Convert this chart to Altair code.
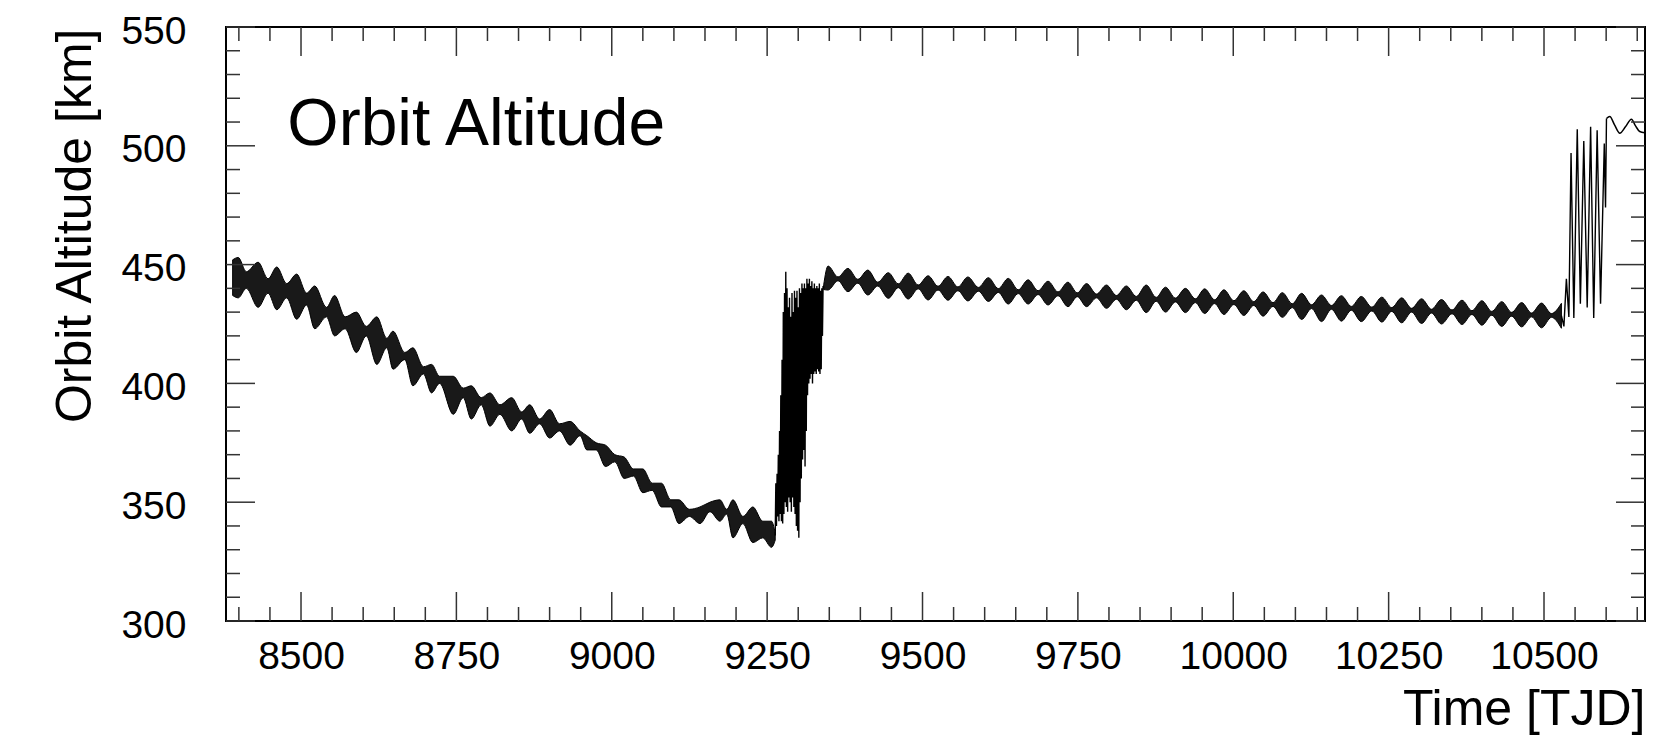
import altair as alt
import pandas as pd

# ---------------- data ----------------
# Segment A: decay phase, envelope of the fast oscillation (time, lower, upper)
tA = [8390, 8399, 8412, 8431, 8447, 8461, 8477, 8493, 8509, 8522, 8541, 8554, 8571, 8589,
      8605, 8622, 8638, 8648, 8667, 8680, 8697, 8710, 8723, 8745, 8761, 8774, 8790, 8804,
      8820, 8839, 8855, 8868, 8884, 8900, 8916, 8933, 8949, 8960, 8975, 8990, 9005, 9020,
      9035, 9050, 9065, 9080, 9095, 9108, 9125, 9142, 9158, 9174, 9185, 9195, 9211, 9227,
      9243, 9257, 9263]
loA = [437, 436, 440, 432, 438, 431, 436, 427, 433, 423, 428, 420, 423, 413,
       420, 408, 415, 406, 410, 399, 404, 396, 400, 387, 394, 385, 391, 382,
       387, 380, 385, 379, 383, 377, 380, 374, 378, 372, 372, 365, 367, 360,
       361, 354, 355, 348, 348, 341, 344, 341, 346, 342, 345, 335, 341, 333,
       335, 331, 334]
hiA = [452, 453, 447, 451, 444, 449, 442, 446, 438, 441, 432, 437, 428, 430,
       424, 428, 419, 422, 413, 415, 407, 408, 403, 403, 398, 399, 394, 396,
       391, 394, 388, 391, 385, 389, 383, 384, 380, 378, 375, 374, 370, 369,
       364, 364, 358, 358, 351, 351, 347, 348, 350, 351, 347, 351, 344, 348,
       342, 342, 337]

# Segment B: flat phase after the re-boost, lobes and nodes of the beat pattern
tB = [9341, 9348, 9364, 9380, 9396, 9412, 9428, 9445, 9461, 9477, 9493, 9509, 9525, 9541,
      9557, 9573, 9590, 9606, 9622, 9638, 9654, 9670, 9686, 9702, 9718, 9734, 9749, 9764,
      9780, 9796, 9812, 9828, 9844, 9860, 9876, 9891, 9907, 9923, 9939, 9954, 9970, 9985,
      10001, 10017, 10033, 10048, 10064, 10079, 10095, 10110, 10126, 10142, 10158, 10174,
      10190, 10206, 10223, 10239, 10255, 10271, 10287, 10303, 10319, 10335, 10352, 10368,
      10384, 10400, 10416, 10432, 10448, 10464, 10480, 10496, 10512, 10528]
loB = [439.5, 439.3, 443.2, 438.6, 442.2, 437.2, 441.0, 435.8, 440.3, 435.5, 439.8, 435.1,
       439.3, 435.0, 439.0, 434.7, 438.8, 434.5, 438.3, 433.4, 437.8, 433.4, 437.4, 433.0,
       436.9, 432.3, 436.5, 432.3, 436.0, 431.6, 435.4, 431.0, 435.0, 429.8, 434.6, 430.0,
       434.3, 429.8, 434.0, 429.4, 433.6, 429.0, 433.2, 428.6, 432.8, 428.3, 432.4, 427.8,
       431.9, 426.9, 431.5, 426.0, 431.2, 426.2, 430.8, 426.0, 430.5, 425.8, 430.3, 425.5,
       430.0, 425.2, 429.6, 425.0, 429.3, 424.8, 429.0, 424.5, 428.7, 424.0, 428.3, 423.8,
       428.0, 423.4, 427.8, 423.2]
hiB = [441.5, 449.4, 444.8, 448.4, 443.8, 447.7, 442.6, 446.6, 441.9, 446.4, 441.4, 445.3,
       440.9, 445.0, 440.6, 444.8, 440.4, 444.5, 439.9, 444.2, 439.4, 443.6, 439.0, 443.0,
       438.5, 442.6, 438.1, 442.0, 437.6, 441.4, 437.0, 441.0, 436.6, 441.4, 436.2, 440.5,
       435.9, 440.0, 435.6, 439.8, 435.2, 439.4, 434.8, 439.0, 434.4, 438.5, 434.0, 438.2,
       433.5, 437.9, 433.1, 437.2, 432.8, 436.9, 432.4, 436.6, 432.1, 436.3, 431.9, 436.0,
       431.6, 435.6, 431.2, 435.3, 430.9, 435.0, 430.6, 434.8, 430.3, 434.4, 429.9, 434.0,
       429.6, 433.8, 429.4, 433.7]

# Segment C: large swings during the first re-boost
tC = [9263, 9264, 9265, 9266, 9267, 9268, 9269, 9270, 9271, 9272, 9273, 9274, 9275, 9276,
      9277, 9278, 9279, 9280, 9281, 9282, 9283, 9284, 9285, 9286, 9287, 9288, 9289, 9290,
      9291, 9292, 9293, 9294, 9295, 9296, 9297, 9298, 9299, 9300, 9301, 9302, 9303, 9304,
      9305, 9306, 9307, 9308, 9309, 9310, 9311, 9312, 9313, 9314, 9315, 9316, 9317, 9318,
      9319, 9320, 9321, 9322, 9323, 9324, 9325, 9326, 9327, 9328, 9329, 9330, 9331, 9332,
      9333, 9334, 9335, 9336, 9337, 9338, 9339, 9340, 9341]
vC = [336, 358, 340, 362, 344, 370, 342, 380, 345, 395, 342, 410, 341, 430,
      345, 438, 350, 447, 348, 440, 346, 432, 352, 436, 350, 428, 346, 438,
      352, 430, 348, 439, 345, 436, 340, 439, 338, 432, 335, 440, 350, 438,
      360, 442, 368, 440, 372, 442, 365, 440, 380, 444, 395, 442, 400, 444,
      402, 441, 404, 443, 400, 440, 404, 442, 405, 440, 404, 441, 406, 440,
      405, 442, 404, 439, 406, 440, 420, 441, 440]

# Segment D: large swings during the second re-boost
tD = [10528, 10532, 10536, 10540, 10543.5, 10548, 10553.5, 10558.5, 10564, 10569.5,
      10575, 10580, 10585.5, 10591, 10597, 10599, 10600.5]
vD = [428.5, 424, 444, 428, 497, 427.5, 507, 433.5, 502, 432,
      508, 427.5, 506.5, 433.5, 501, 474, 511.5]

# Segment E: smooth wave at the end
tE = [10600.5, 10605.8, 10613.5, 10621.9, 10631, 10640.7, 10647, 10654, 10662]
vE = [511.5, 512.3, 508.8, 505.3, 508, 511.2, 508.5, 506, 505.5]

x_major = [8500, 8750, 9000, 9250, 9500, 9750, 10000, 10250, 10500]
x_minor = [v for v in range(8400, 10651, 50) if v % 250]
y_major = [300, 350, 400, 450, 500, 550]
y_minor = [v for v in range(310, 550, 10) if v % 50]

label_text = ["Orbit Altitude"]
label_t = [8478]
label_v = [500.3]

# ---------------- chart ----------------
W, H = 1419, 594
FONT = "Liberation Sans"
TICK = "#333333"
MAJ, MIN = 29, 14

xs = alt.Scale(domain=[8379.3, 10662.5], nice=False, zero=False)
ys = alt.Scale(domain=[300, 550], nice=False, zero=False)

band_df = pd.concat([
    pd.DataFrame({"t": tA, "lo": loA, "hi": hiA, "seg": "A"}),
    pd.DataFrame({"t": tB, "lo": loB, "hi": hiB, "seg": "B"}),
])
line_df = pd.concat([
    pd.DataFrame({"t": tC, "v": vC, "seg": "C"}),
    pd.DataFrame({"t": tD, "v": vD, "seg": "D"}),
])
wave_df = pd.DataFrame({"t": tE, "v": vE})
label_df = pd.DataFrame({"t": label_t, "v": label_v, "label": label_text})

x_axis = alt.Axis(values=x_major, format="d", ticks=False, tickSize=0, domain=False, grid=False,
                  labelFontSize=39, labelPadding=47, labelBaseline="alphabetic", labelColor="black",
                  labelFont=FONT, labelOverlap=False, labelFlush=False,
                  title="Time [TJD]", titleFont=FONT, titleFontSize=50, titleFontWeight="normal",
                  titleColor="black", titleAlign="right", titleBaseline="alphabetic",
                  titleX=W, titleY=103)
y_axis = alt.Axis(values=y_major, format="d", ticks=False, tickSize=0, domain=False, grid=False,
                  labelFontSize=39, labelPadding=40, labelOffset=4, labelColor="black",
                  labelFont=FONT, labelOverlap=False, labelFlush=False,
                  title="Orbit Altitude [km]", titleFont=FONT, titleFontSize=50,
                  titleFontWeight="normal", titleColor="black", titleAngle=270,
                  titleAlign="right", titleBaseline="alphabetic", titleX=-136, titleY=1)

band = alt.Chart(band_df).mark_area(color="black", fillOpacity=0.9, stroke="black",
                                    strokeWidth=1, interpolate="monotone", clip=True).encode(
    x=alt.X("t:Q", scale=xs, axis=x_axis),
    y=alt.Y("lo:Q", scale=ys, axis=y_axis),
    y2="hi:Q",
    detail="seg:N",
)

lines = alt.Chart(line_df).mark_line(color="black", strokeWidth=1.4, clip=True).encode(
    x=alt.X("t:Q", scale=xs),
    y=alt.Y("v:Q", scale=ys),
    detail="seg:N",
)

wave = alt.Chart(wave_df).mark_line(color="black", strokeWidth=1.5, clip=True,
                                    interpolate="monotone").encode(
    x=alt.X("t:Q", scale=xs),
    y=alt.Y("v:Q", scale=ys),
)

label = alt.Chart(label_df).mark_text(align="left", baseline="alphabetic", fontSize=66,
                                      font=FONT, color="black").encode(
    x=alt.X("t:Q", scale=xs),
    y=alt.Y("v:Q", scale=ys),
    text="label:N",
)


def tick_layer(values, side, length):
    df = pd.DataFrame({"v": values})
    m = alt.Chart(df).mark_rule(color=TICK, strokeWidth=1.5)
    if side == "bottom":
        return m.encode(x=alt.X("v:Q", scale=xs), y=alt.value(H), y2=alt.value(H - length))
    if side == "top":
        return m.encode(x=alt.X("v:Q", scale=xs), y=alt.value(0), y2=alt.value(length))
    if side == "left":
        return m.encode(y=alt.Y("v:Q", scale=ys), x=alt.value(0), x2=alt.value(length))
    return m.encode(y=alt.Y("v:Q", scale=ys), x=alt.value(W), x2=alt.value(W - length))


tick_layers = [
    tick_layer(x_major, "bottom", MAJ), tick_layer(x_minor, "bottom", MIN),
    tick_layer(x_major, "top", MAJ), tick_layer(x_minor, "top", MIN),
    tick_layer(y_major, "left", MAJ), tick_layer(y_minor, "left", MIN),
    tick_layer(y_major, "right", MAJ), tick_layer(y_minor, "right", MIN),
]

chart = alt.layer(band, lines, wave, label, *tick_layers).properties(
    width=W, height=H,
    autosize=alt.AutoSizeParams(type="none"),
    padding={"left": 218, "top": 19, "right": 12, "bottom": 114},
    background="white",
).configure_view(
    stroke="black", strokeWidth=2
)

chart.save("out.html", embed_options={"renderer": "svg", "actions": False})
